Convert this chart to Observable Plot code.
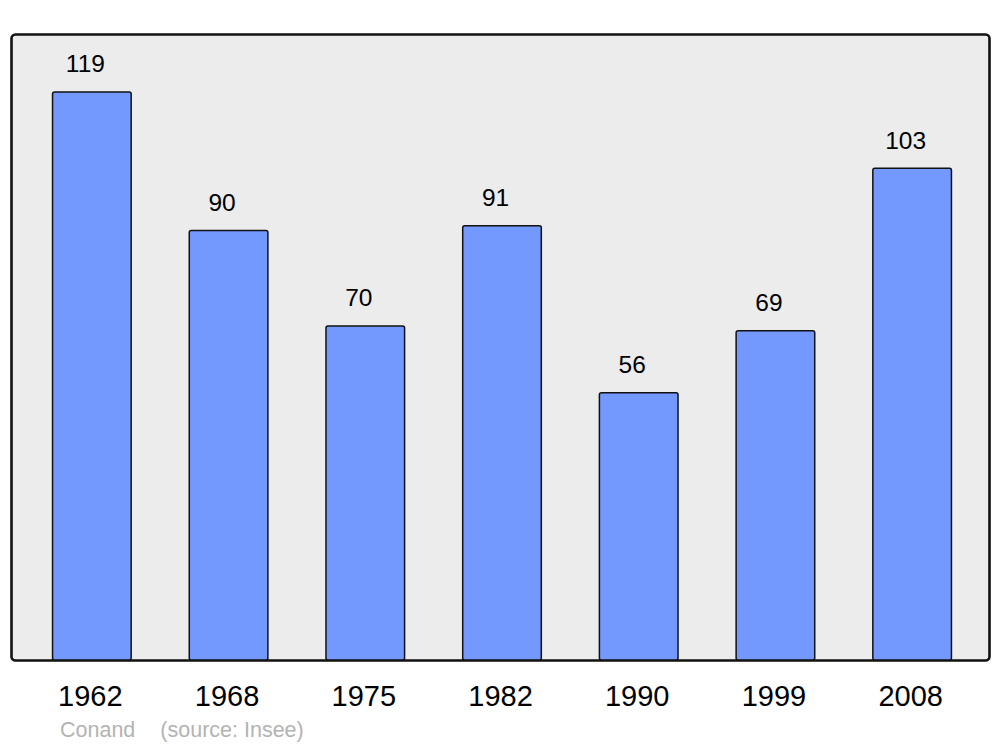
<!DOCTYPE html>
<html>
<head>
<meta charset="utf-8">
<script src="https://cdn.jsdelivr.net/npm/d3@7"></script>
<script src="https://cdn.jsdelivr.net/npm/@observablehq/plot@0.6"></script>
<style>
  html, body { margin: 0; padding: 0; background: #fff; }
  body { width: 1000px; height: 747px; overflow: hidden; font-family: "Liberation Sans", Arial, sans-serif; }
  svg { display: block; }
  #footer { height: 32px; line-height: 30px; font-size: 21.5px; color: #b3b3b3; padding-left: 60px; white-space: pre; }
</style>
</head>
<body>
<div id="chart"></div>
<div id="footer"><span>Conand</span><span style="margin-left:25px">(source: Insee)</span></div>
<script>
const years = ["1962", "1968", "1975", "1982", "1990", "1999", "2008"];
const population = [119, 90, 70, 91, 56, 69, 103];

const data = years.map((y, i) => ({year: y, value: population[i]}));

const chart = Plot.plot({
  width: 1000,
  height: 715,
  marginLeft: 11,
  marginRight: 11,
  marginTop: 34,
  marginBottom: 55,
  style: {fontFamily: "'Liberation Sans', Arial, sans-serif", background: "#fff", overflow: "visible"},
  x: {domain: years, paddingInner: 0.425, paddingOuter: 0.2125, insetLeft: 12.5, insetRight: 8.5, round: false, label: null},
  y: {domain: [0, 131.15], axis: null},
  marks: [
    Plot.frame({fill: "#ececec", stroke: "#111", strokeWidth: 2.6, rx: 4}),
    Plot.barY(data, {x: "year", y: "value", fill: "#7399ff", stroke: "#111", strokeWidth: 1.5, rx: 2}),
    Plot.text(data, {x: "year", y: "value", text: d => String(d.value), dy: -28, dx: -7, fontSize: 24.5, fill: "#000"}),
    Plot.axisX({tickSize: 0, tickPadding: 25, fontSize: 29, dx: -2, fill: "#000", label: null})
  ]
});
document.getElementById("chart").appendChild(chart);
</script>
</body>
</html>
